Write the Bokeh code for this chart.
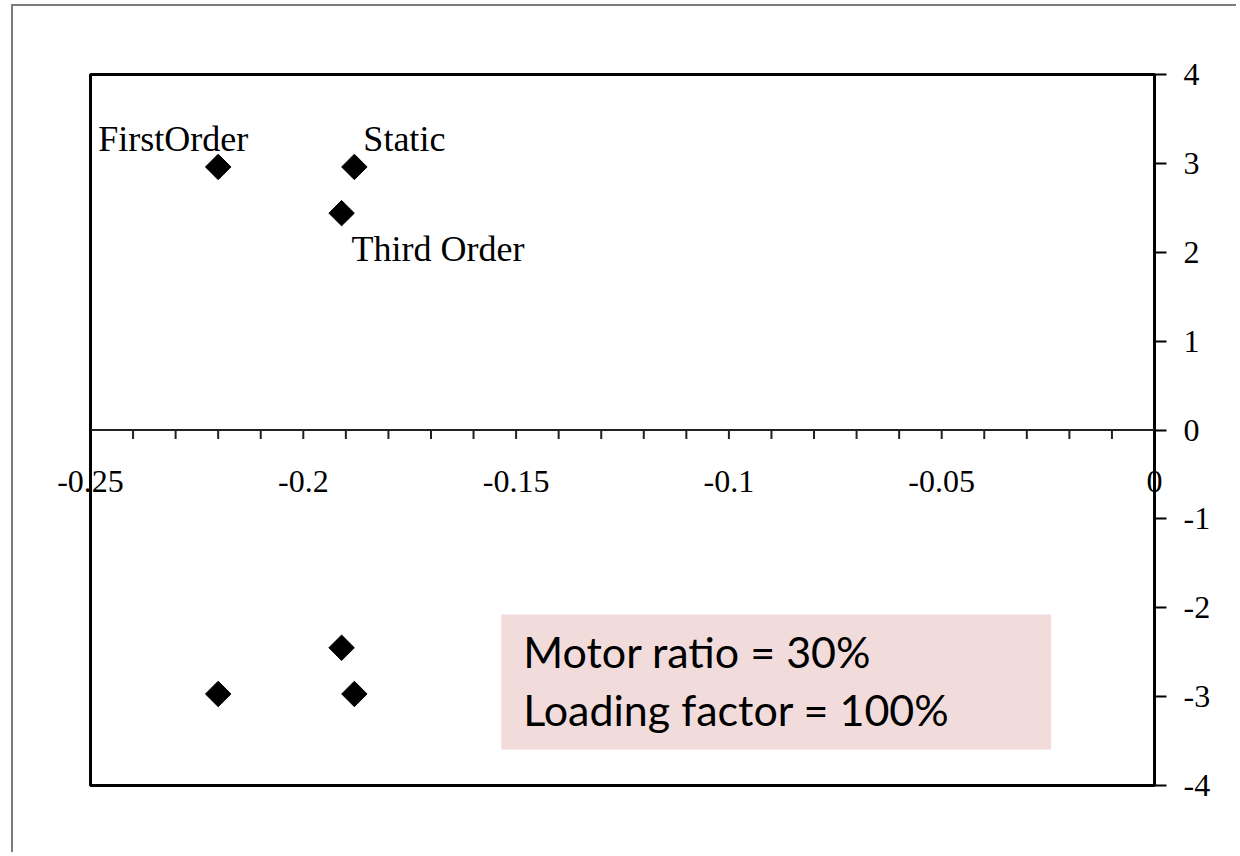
import math
from bokeh.plotting import figure
from bokeh.models import (Range1d, FixedTicker, Span, Label, BoxAnnotation)
from bokeh.embed import file_html
from bokeh.resources import INLINE

# ---------------- data ----------------
point_names = ["FirstOrder", "Static", "Third Order", "FirstOrder_c", "Static_c", "Third Order_c"]
real_part = [-0.220, -0.188, -0.191, -0.220, -0.188, -0.191]
imag_part = [2.96, 2.96, 2.44, -2.97, -2.97, -2.45]

labelled_points = ["FirstOrder", "Static", "Third Order"]

x_major_ticks = [-0.25, -0.2, -0.15, -0.1, -0.05, 0.0]
x_major_labels = ["-0.25", "-0.2", "-0.15", "-0.1", "-0.05", "0"]
x_minor_ticks = [-0.24, -0.23, -0.22, -0.21, -0.20, -0.19, -0.18, -0.17, -0.16, -0.15,
                 -0.14, -0.13, -0.12, -0.11, -0.10, -0.09, -0.08, -0.07, -0.06, -0.05,
                 -0.04, -0.03, -0.02, -0.01]
y_ticks = [-4, -3, -2, -1, 0, 1, 2, 3, 4]
y_tick_labels = ["-4", "-3", "-2", "-1", "0", "1", "2", "3", "4"]

note_lines = ["Motor ratio = 30%", "Loading factor = 100%"]
note_box = dict(left=-0.1535, right=-0.0243, top=-2.075, bottom=-3.595)

# ---------------- figure ----------------
FRAME_W, FRAME_H = 1064, 711
LEFT, TOP = 77, 68
W, H = 1225, 848
p = figure(width=W, height=H, output_backend="svg", toolbar_location=None,
           x_range=Range1d(-0.25, 0.0), y_range=Range1d(-4, 4),
           x_axis_location=None, y_axis_location="right",
           min_border_left=LEFT, min_border_right=W - LEFT - FRAME_W,
           min_border_top=TOP, min_border_bottom=H - TOP - FRAME_H)
p.styles = {"border-top": "2px solid #7a7a7a", "border-left": "2px solid #7a7a7a",
            "margin-left": "11px", "margin-top": "4px"}
p.grid.visible = False
p.background_fill_color = "white"
p.border_fill_color = "white"
p.outline_line_color = "black"
p.outline_line_width = 3
p.outline_line_alpha = 1.0

# right axis
ya = p.yaxis[0]
ya.ticker = FixedTicker(ticks=y_ticks)
ya.major_label_overrides = {t: s for t, s in zip(y_ticks, y_tick_labels)}
ya.axis_line_width = 3
ya.axis_line_color = "black"
ya.major_tick_in = 0
ya.major_tick_out = 12
ya.major_tick_line_width = 2
ya.minor_tick_out = 0
ya.minor_tick_in = 0
ya.major_label_standoff = 17
ya.major_label_text_font = "Liberation Serif"
ya.major_label_text_font_size = "32px"
ya.major_label_text_color = "black"

# x axis drawn at y = 0
p.add_layout(Span(location=0, dimension="width", line_color="#222222", line_width=2))
tick_len = 9 * 8.0 / FRAME_H
p.segment(x0=x_minor_ticks, y0=[0] * len(x_minor_ticks), x1=x_minor_ticks,
          y1=[-tick_len] * len(x_minor_ticks), line_color="#222222", line_width=2)
# the two end labels straddle the frame edge: put them in side panels (not clipped)
x_lo, x_hi = x_major_ticks[0], x_major_ticks[-1]
for xv, txt in zip(x_major_ticks, x_major_labels):
    lab = Label(x=xv, y=0, text=txt, text_align="center", text_baseline="middle",
                y_offset=-51, text_font="Liberation Serif", text_font_size="32px",
                text_color="black", level="overlay")
    if xv == x_lo:
        p.add_layout(lab, "left")
    elif xv == x_hi:
        p.add_layout(lab, "above")
    else:
        p.add_layout(lab)

# points
p.scatter(real_part, imag_part, marker="square", angle=math.pi / 4, size=18,
          fill_color="black", line_color="black", line_width=1)

# point labels
label_style = {
    "FirstOrder": dict(text_align="right", x_offset=30, y_offset=28),
    "Static": dict(text_align="left", x_offset=9, y_offset=28),
    "Third Order": dict(text_align="left", x_offset=10, y_offset=-36),
}
for name in labelled_points:
    i = point_names.index(name)
    p.add_layout(Label(x=real_part[i], y=imag_part[i], text=name, text_baseline="middle",
                       text_font="Liberation Serif", text_font_size="36px",
                       text_color="black", **label_style[name]))

# note box
p.add_layout(BoxAnnotation(fill_color="#F2DCDB", fill_alpha=1.0, line_color=None,
                           level="underlay", **note_box))
for k, line in enumerate(note_lines):
    p.add_layout(Label(x=note_box["left"], y=note_box["top"], text=line,
                       x_offset=22, y_offset=-(37 + 58 * k), text_baseline="alphabetic",
                       text_align="left", text_font="Lato", text_font_size="43px",
                       text_color="black"))

open("out.html", "w").write(file_html(p, INLINE))
